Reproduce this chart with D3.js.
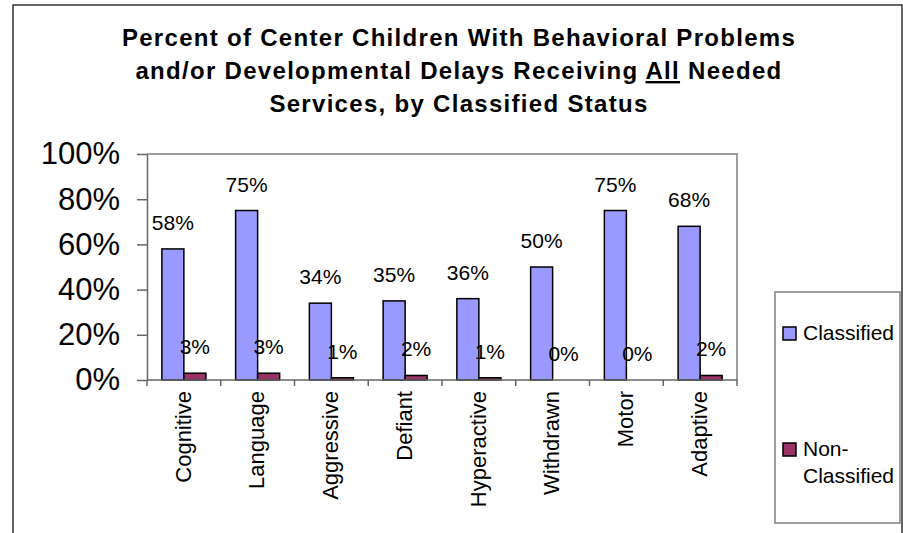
<!DOCTYPE html>
<html>
<head>
<title>Behavioral Problems and Developmental Delays</title>
<style>
body { margin: 0; background: white; }
svg text { font-family: "Liberation Sans", Arial, sans-serif; fill: black; }
</style>
<script type="text/javascript" src="https://d3js.org/d3.v7.min.js"></script>
</head>
<body>
<svg id="chart" width="903" height="533"></svg>
<script type="text/javascript">
// data
const categories = ["Cognitive", "Language", "Aggressive", "Defiant", "Hyperactive", "Withdrawn", "Motor", "Adaptive"];
const classified = [58, 75, 34, 35, 36, 50, 75, 68];
const nonClassified = [3, 3, 1, 2, 1, 0, 0, 2];
const seriesNames = ["Classified", "Non-Classified"];
const seriesColors = ["#9999FF", "#993366"];
const yTicks = [0, 20, 40, 60, 80, 100];
const titleLines = ["Percent of Center Children With Behavioral Problems",
                    "and/or Developmental Delays Receiving |All| Needed",
                    "Services, by Classified Status"];

const svg = d3.select("#chart");
const PLOT = { left: 147, right: 737, top: 154, bottom: 380 };

// outer frame (runs off the bottom of the picture)
svg.append("path")
   .attr("d", "M13,560 L13,5 L902,5 L902,560")
   .style("fill", "none")
   .style("stroke", "#333")
   .style("stroke-width", 1.5);

// title
const title = svg.append("text")
   .attr("x", 459)
   .attr("y", 46)
   .attr("text-anchor", "middle")
   .style("font-weight", "bold")
   .style("font-size", "24px")
   .style("letter-spacing", "1.3px");
titleLines.forEach((line, i) => {
    const parts = line.split("|");
    parts.forEach((p, j) => {
        const t = title.append("tspan").text(p);
        if (j === 0) t.attr("x", 459).attr("dy", i === 0 ? 0 : 33);
        if (j === 1) t.attr("text-decoration", "underline");
    });
});

let xScale = d3.scaleBand()
               .domain(categories)
               .range([PLOT.left, PLOT.right])
               .padding(0);

let innerScale = d3.scaleBand()
                   .domain(seriesNames)
                   .range([0, xScale.bandwidth()])
                   .paddingInner(0)
                   .paddingOuter(0.675);

let yScale = d3.scaleLinear()
               .domain([0, 100])
               .range([PLOT.bottom, PLOT.top]);

// plot area border (top and right)
svg.append("path")
   .attr("d", `M${PLOT.left},${PLOT.top} L${PLOT.right},${PLOT.top} L${PLOT.right},${PLOT.bottom}`)
   .style("fill", "none")
   .style("stroke", "#808080")
   .style("stroke-width", 1.5);

// y axis
const yAxis = d3.axisLeft()
                .scale(yScale)
                .tickValues(yTicks)
                .tickFormat(d => d + "%")
                .tickSize(10)
                .tickPadding(17)
                .tickSizeOuter(0);

const yG = svg.append("g")
   .attr("transform", `translate(${PLOT.left}, 0)`)
   .call(yAxis);
yG.selectAll("path, line").style("stroke", "#666").style("stroke-width", 1.5);
yG.selectAll("text")
  .style("font-size", "31px")
  .style("font-family", "'Liberation Sans', Arial, sans-serif");

// bars
const series = [classified, nonClassified];
series.forEach((vals, s) => {
    svg.append("g")
       .selectAll("rect")
       .data(vals)
       .join("rect")
       .attr("x", (d, i) => xScale(categories[i]) + innerScale(seriesNames[s]))
       .attr("y", d => yScale(d))
       .attr("width", innerScale.bandwidth())
       .attr("height", d => yScale(0) - yScale(d))
       .style("fill", seriesColors[s])
       .style("stroke", "black")
       .style("stroke-width", 1.5);

    svg.append("g")
       .selectAll("text")
       .data(vals)
       .join("text")
       .attr("x", (d, i) => xScale(categories[i]) + innerScale(seriesNames[s]) + innerScale.bandwidth() / 2)
       .attr("y", d => yScale(d) - 19)
       .attr("text-anchor", "middle")
       .style("font-size", "21px")
       .text(d => d + "%");
});

// x axis line and ticks at category boundaries
const xG = svg.append("g");
xG.append("line")
  .attr("x1", PLOT.left).attr("x2", PLOT.right)
  .attr("y1", yScale(0)).attr("y2", yScale(0))
  .style("stroke", "#666").style("stroke-width", 1.5);
const bounds = categories.map(c => xScale(c)).concat([xScale.range()[1]]);
xG.selectAll("line.tick")
  .data(bounds)
  .join("line")
  .attr("class", "tick")
  .attr("x1", d => d).attr("x2", d => d)
  .attr("y1", yScale(0)).attr("y2", yScale(0) + 6)
  .style("stroke", "#666").style("stroke-width", 1.5);

xG.selectAll("text")
  .data(categories)
  .join("text")
  .attr("transform", d => `translate(${xScale(d) + xScale.bandwidth() / 2 - 1}, ${yScale(0) + 11}) rotate(-90)`)
  .attr("text-anchor", "end")
  .attr("dy", "0.35em")
  .style("font-size", "22px")
  .text(d => d);

// legend
const legend = svg.append("g");
legend.append("rect")
      .attr("x", 775).attr("y", 292)
      .attr("width", 125).attr("height", 231)
      .style("fill", "white")
      .style("stroke", "#808080")
      .style("stroke-width", 1.5);

const legendRows = [[seriesNames[0]], ["Non-", "Classified"]];
const legendTop = [327, 443];
legendRows.forEach((lines, i) => {
    legend.append("rect")
          .attr("x", 783).attr("y", legendTop[i])
          .attr("width", 13).attr("height", 13)
          .style("fill", seriesColors[i])
          .style("stroke", "black")
          .style("stroke-width", 1.5);
    const t = legend.append("text")
          .attr("x", 803)
          .attr("y", legendTop[i] + 13)
          .style("font-size", "21px");
    lines.forEach((l, j) => {
        t.append("tspan").attr("x", 803).attr("dy", j === 0 ? 0 : 27).text(l);
    });
});
</script>
</body>
</html>
